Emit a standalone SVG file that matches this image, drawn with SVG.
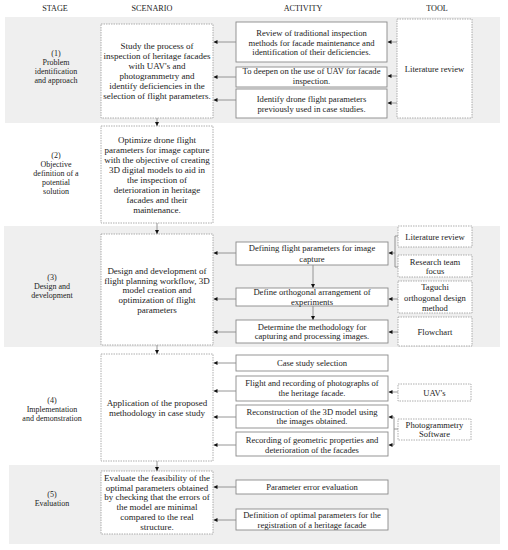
<svg xmlns="http://www.w3.org/2000/svg" width="508" height="550" viewBox="0 0 508 550">
<defs>
<marker id="ah" markerUnits="userSpaceOnUse" markerWidth="4" markerHeight="4" refX="4" refY="2" orient="auto">
<path d="M0,0 L4,2 L0,4 z" fill="#111"/>
</marker>
<style>
text{font-family:"Liberation Serif","DejaVu Serif",serif;fill:#222;text-anchor:middle}
.h{font-size:8.2px}
.s{font-size:8px}
.t{font-size:9px}
.a{font-size:8.6px}
.band{fill:#efefef}
.box{fill:#fff;stroke:#8a8a8a;stroke-width:0.9}
.dash{fill:#fff;stroke:#9a9a9a;stroke-width:0.8;stroke-dasharray:1.5 1}
.c{stroke:#8a8a8a;stroke-width:0.9;fill:none}
.ar{stroke:#8a8a8a;stroke-width:0.9;fill:none;marker-end:url(#ah)}
</style>
</defs>
<rect width="508" height="550" fill="#fff"/>
<g id="bands">
<rect class="band" x="5" y="17" width="495" height="106"/>
<rect class="band" x="4" y="226" width="496" height="121"/>
<rect class="band" x="9" y="465" width="491" height="79"/>
</g>
<g id="headers">
<text class="h" x="55" y="11">STAGE</text>
<text class="h" x="152" y="11">SCENARIO</text>
<text class="h" x="303" y="11">ACTIVITY</text>
<text class="h" x="437" y="11">TOOL</text>
</g>
<g id="stages">
<text class="s" x="56" y="56">(1)</text>
<text class="s" x="56" y="65">Problem</text>
<text class="s" x="56" y="74">identification</text>
<text class="s" x="56" y="83">and approach</text>
<text class="s" x="56" y="158">(2)</text>
<text class="s" x="56" y="167">Objective</text>
<text class="s" x="56" y="176">definition of a</text>
<text class="s" x="56" y="185">potential</text>
<text class="s" x="56" y="194">solution</text>
<text class="s" x="52" y="280">(3)</text>
<text class="s" x="52" y="289">Design and</text>
<text class="s" x="52" y="298">development</text>
<text class="s" x="52" y="403">(4)</text>
<text class="s" x="52" y="412">Implementation</text>
<text class="s" x="52" y="421">and demonstration</text>
<text class="s" x="52" y="497">(5)</text>
<text class="s" x="52" y="506">Evaluation</text>
</g>
<g id="scenario1">
<rect class="dash" x="101" y="24" width="112" height="94"/>
<text class="t" x="157" y="49">Study the process of</text>
<text class="t" x="157" y="59">inspection of heritage facades</text>
<text class="t" x="157" y="69">with UAV's and</text>
<text class="t" x="157" y="79">photogrammetry and</text>
<text class="t" x="157" y="89">identify deficiencies in the</text>
<text class="t" x="157" y="99">selection of flight parameters.</text>
</g>
<g id="scenario2">
<rect class="dash" x="101" y="126" width="112" height="97"/>
<text class="t" x="157" y="143">Optimize drone flight</text>
<text class="t" x="157" y="153">parameters for image capture</text>
<text class="t" x="157" y="163">with the objective of creating</text>
<text class="t" x="157" y="173">3D digital models to aid in</text>
<text class="t" x="157" y="183">the inspection of</text>
<text class="t" x="157" y="193">deterioration in heritage</text>
<text class="t" x="157" y="203">facades and their</text>
<text class="t" x="157" y="213">maintenance.</text>
</g>
<g id="scenario3">
<rect class="dash" x="101" y="234" width="112" height="111"/>
<text class="t" x="157" y="274">Design and development of</text>
<text class="t" x="157" y="284">flight planning workflow, 3D</text>
<text class="t" x="157" y="293">model creation and</text>
<text class="t" x="157" y="303">optimization of flight</text>
<text class="t" x="157" y="313">parameters</text>
</g>
<g id="scenario4">
<rect class="dash" x="101" y="354" width="112" height="107"/>
<text class="t" x="157" y="406">Application of the proposed</text>
<text class="t" x="157" y="416">methodology in case study</text>
</g>
<g id="scenario5">
<rect class="dash" x="101" y="471" width="112" height="63"/>
<text class="t" x="157" y="481">Evaluate the feasibility of the</text>
<text class="t" x="157" y="491">optimal parameters obtained</text>
<text class="t" x="157" y="500">by checking that the errors of</text>
<text class="t" x="157" y="510">the model are minimal</text>
<text class="t" x="157" y="520">compared to the real</text>
<text class="t" x="157" y="530">structure.</text>
</g>
<g id="activities1">
<g id="a1"><rect class="box" x="236" y="22" width="151" height="40"/>
<text class="a" x="311.5" y="36">Review of traditional inspection</text>
<text class="a" x="311.5" y="46">methods for facade maintenance and</text>
<text class="a" x="311.5" y="55">identification of their deficiencies.</text></g>
<g id="a2"><rect class="box" x="236" y="67" width="151" height="20"/>
<text class="a" x="311.5" y="74">To deepen on the use of UAV for facade</text>
<text class="a" x="311.5" y="84">inspection.</text></g>
<g id="a3"><rect class="box" x="236" y="89" width="151" height="29"/>
<text class="a" x="311.5" y="102">Identify drone flight parameters</text>
<text class="a" x="311.5" y="112">previously used in case studies.</text></g>
</g>
<g id="activities3">
<g id="b1"><rect class="box" x="236" y="242" width="152" height="23"/>
<text class="a" x="312" y="251">Defining flight parameters for image</text>
<text class="a" x="312" y="262">capture</text></g>
<g id="b2"><rect class="box" x="236" y="288" width="152" height="18"/>
<text class="a" x="312" y="295">Define orthogonal arrangement of</text>
<text class="a" x="312" y="305">experiments</text></g>
<g id="b3"><rect class="box" x="236" y="320" width="152" height="23"/>
<text class="a" x="312" y="330">Determine the methodology for</text>
<text class="a" x="312" y="339">capturing and processing images.</text></g>
</g>
<g id="activities4">
<g id="c1"><rect class="box" x="236" y="355" width="152" height="16"/>
<text class="a" x="312" y="366">Case study selection</text></g>
<g id="c2"><rect class="box" x="236" y="376" width="152" height="25"/>
<text class="a" x="312" y="386">Flight and recording of photographs of</text>
<text class="a" x="312" y="396">the heritage facade.</text></g>
<g id="c3"><rect class="box" x="236" y="405" width="152" height="23"/>
<text class="a" x="312" y="415">Reconstruction of the 3D model using</text>
<text class="a" x="312" y="424">the images obtained.</text></g>
<g id="c4"><rect class="box" x="236" y="432" width="152" height="24"/>
<text class="a" x="312" y="443">Recording of geometric properties and</text>
<text class="a" x="312" y="453">deterioration of the facades</text></g>
</g>
<g id="activities5">
<g id="d1"><rect class="box" x="236" y="480" width="152" height="14"/>
<text class="a" x="312" y="490">Parameter error evaluation</text></g>
<g id="d2"><rect class="box" x="236" y="509" width="152" height="21"/>
<text class="a" x="312" y="518">Definition of optimal parameters for the</text>
<text class="a" x="312" y="528">registration of a heritage facade</text></g>
</g>
<g id="tools">
<g id="t1"><rect class="dash" x="397" y="19" width="75" height="99"/>
<text class="a" x="434.5" y="72">Literature review</text></g>
<g id="t2"><rect class="dash" x="398" y="226" width="74" height="21"/>
<text class="a" x="435" y="240">Literature review</text></g>
<g id="t3"><rect class="dash" x="398" y="255" width="74" height="22"/>
<text class="a" x="435" y="265">Research team</text>
<text class="a" x="435" y="274">focus</text></g>
<g id="t4"><rect class="dash" x="398" y="281" width="74" height="32"/>
<text class="a" x="435" y="290">Taguchi</text>
<text class="a" x="435" y="301">orthogonal design</text>
<text class="a" x="435" y="311">method</text></g>
<g id="t5"><rect class="dash" x="398" y="317" width="74" height="29"/>
<text class="a" x="435" y="335">Flowchart</text></g>
<g id="t6"><rect class="dash" x="398" y="384" width="73" height="17"/>
<text class="a" x="434.5" y="396">UAV's</text></g>
<g id="t7"><rect class="dash" x="398" y="419" width="73" height="21"/>
<text class="a" x="434.5" y="428">Photogrammetry</text>
<text class="a" x="434.5" y="437">Software</text></g>
</g>
<g id="connectors">
<line class="ar" x1="157" y1="118" x2="157" y2="126"/>
<line class="ar" x1="157" y1="223" x2="157" y2="234"/>
<line class="ar" x1="157" y1="345" x2="157" y2="354"/>
<line class="ar" x1="157" y1="461" x2="157" y2="471"/>
<line class="ar" x1="236" y1="42" x2="213.5" y2="42"/>
<line class="ar" x1="236" y1="77" x2="213.5" y2="77"/>
<line class="ar" x1="236" y1="100" x2="213.5" y2="100"/>
<line class="ar" x1="236" y1="253" x2="213.5" y2="253"/>
<line class="ar" x1="236" y1="299" x2="213.5" y2="299"/>
<line class="ar" x1="236" y1="332" x2="213.5" y2="332"/>
<line class="ar" x1="236" y1="363" x2="213.5" y2="363"/>
<line class="ar" x1="236" y1="391" x2="213.5" y2="391"/>
<line class="ar" x1="236" y1="417" x2="213.5" y2="417"/>
<line class="ar" x1="236" y1="445" x2="213.5" y2="445"/>
<line class="ar" x1="236" y1="487" x2="213.5" y2="487"/>
<line class="ar" x1="236" y1="520" x2="213.5" y2="520"/>
<line class="ar" x1="313" y1="265" x2="313" y2="288"/>
<line class="ar" x1="313" y1="306" x2="313" y2="320"/>
<line class="ar" x1="397" y1="42" x2="387.5" y2="42"/>
<line class="ar" x1="397" y1="76" x2="387.5" y2="76"/>
<line class="ar" x1="397" y1="103" x2="387.5" y2="103"/>
<path class="c" d="M398,236 H395 V267 H398"/>
<line class="ar" x1="395" y1="253" x2="388.5" y2="253"/>
<line class="ar" x1="398" y1="299" x2="388.5" y2="299"/>
<line class="ar" x1="398" y1="332" x2="388.5" y2="332"/>
<line class="ar" x1="398" y1="392" x2="388.5" y2="392"/>
<path class="c" d="M394,417 V445 M394,429 H398"/>
<line class="ar" x1="394" y1="417" x2="388.5" y2="417"/>
<line class="ar" x1="394" y1="445" x2="388.5" y2="445"/>
</g>
</svg>
